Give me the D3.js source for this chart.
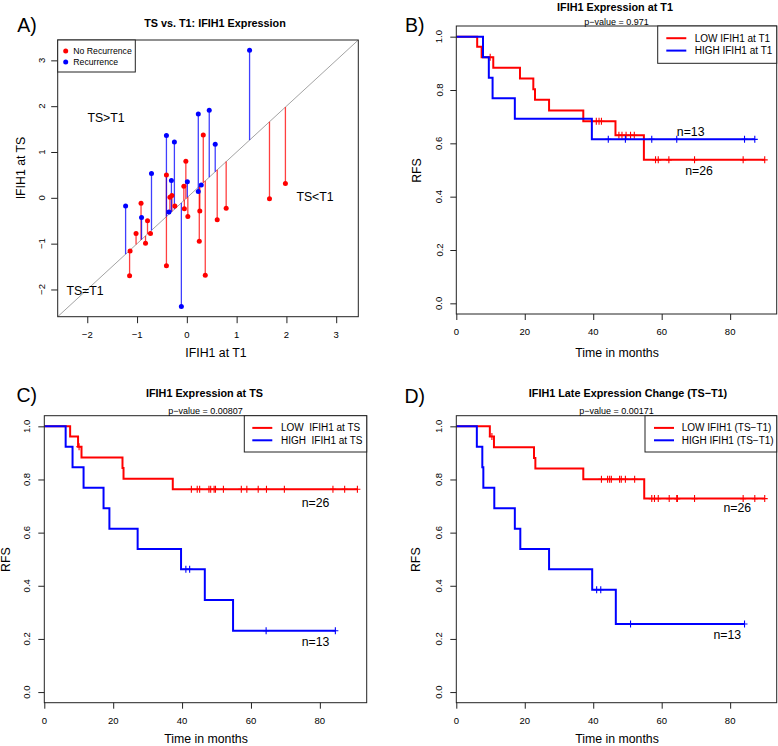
<!DOCTYPE html>
<html><head><meta charset="utf-8">
<script src="https://cdn.jsdelivr.net/npm/d3@7"></script>
<style>
body{margin:0;background:#fff}
text{font-family:"Liberation Sans",Arial,Helvetica,sans-serif;fill:#000}
</style>
</head><body>
<svg id="c" width="778" height="746" xmlns="http://www.w3.org/2000/svg"></svg>
<script>
// ---------- Panel A data (IFIH1 at T1 vs at TS) ----------
const noRecT1 = [1.98, 1.66, 0.79, 0.61, 0.33, 0.37, 0.26, 0.25, -0.02, -0.06, -0.05, 0.02, -0.24, -0.41, -0.34, -0.30, -0.41, -0.92, -0.79, -0.73, -1.02, -0.83, -1.14, -1.15];
const noRecTS = [0.31, -0.02, -0.23, -0.48, 1.37, -1.69, -0.29, -0.95, 0.80, 0.25, -0.24, -0.41, -0.18, 0.50, 0.01, 0.05, -1.48, -0.12, -0.50, -0.78, -0.78, -0.99, -1.16, -1.70];
const recT1 = [1.26, 0.23, 0.45, -0.41, -0.25, 0.57, -0.71, -0.31, 0.01, 0.29, 0.23, -0.36, -1.23, -0.91, -0.11];
const recTS = [3.22, 1.83, 1.91, 1.36, 1.22, 1.17, 0.53, 0.38, 0.35, 0.28, 0.14, -0.31, -0.18, -0.43, -2.37];
const ticksA = [-2, -1, 0, 1, 2, 3];
const legendA = ["No Recurrence", "Recurrence"];

// ---------- KM panels ----------
const kmTicksX = [0, 20, 40, 60, 80];
const kmTicksY = [0, 0.2, 0.4, 0.6, 0.8, 1.0];
const kmTickLabelsY = ["0.0", "0.2", "0.4", "0.6", "0.8", "1.0"];

// B: IFIH1 at T1
const bLowTimes = [6.1, 7.4, 10.8, 18.6, 22.5, 23.0, 27.1, 37.1, 46.5, 54.8];
const bLowSurv = [0.962, 0.923, 0.883, 0.843, 0.803, 0.763, 0.723, 0.683, 0.630, 0.538];
const bLowCens = [9.9, 40.9, 41.7, 42.4, 47.5, 48.4, 49.6, 50.9, 52.0, 58.2, 59.0, 62.1, 69.6, 83.8, 90.1];
const bHighTimes = [7.8, 9.5, 10.6, 17.1, 39.6];
const bHighSurv = [0.923, 0.846, 0.769, 0.692, 0.615];
const bHighCens = [44.4, 49.4, 57.1, 64.4, 84.2, 87.2];

// C: IFIH1 at TS
const cLowTimes = [7.5, 9.8, 10.8, 22.7, 23.0, 37.3];
const cLowSurv = [0.962, 0.923, 0.883, 0.843, 0.803, 0.763];
const cLowCens = [10.1, 42.7, 44.4, 45.1, 47.8, 48.3, 49.3, 49.7, 52.0, 57.2, 58.8, 62.1, 64.5, 69.7, 83.8, 87.2, 90.9];
const cHighTimes = [6.2, 8.2, 11.4, 17.2, 18.9, 27.1, 39.7, 46.6, 54.8];
const cHighSurv = [0.923, 0.846, 0.769, 0.692, 0.615, 0.538, 0.462, 0.346, 0.231];
const cHighCens = [41.1, 42.2, 64.4, 84.5];

// D: Late expression change (TS-T1)
const dLowTimes = [9.8, 11.0, 22.7, 23.1, 37.1, 54.9];
const dLowSurv = [0.962, 0.921, 0.881, 0.841, 0.801, 0.728];
const dLowCens = [10.4, 42.4, 44.2, 44.8, 45.3, 47.7, 48.2, 49.4, 52.1, 57.1, 57.9, 59.0, 62.2, 64.4, 64.6, 69.6, 83.8, 87.2, 90.1];
const dHighTimes = [6.0, 7.6, 7.9, 11.1, 17.1, 18.7, 27.1, 39.7, 46.6];
const dHighSurv = [0.923, 0.846, 0.769, 0.692, 0.615, 0.538, 0.462, 0.385, 0.256];
const dHighCens = [41.0, 42.2, 50.9, 84.2];

const RED = "#ff0000", BLUE = "#0000ff";
const svg = d3.select("#c");

function txt(x, y, s, size, opts = {}) {
  const t = svg.append("text").attr("x", x).attr("y", y)
    .attr("font-size", size).attr("dominant-baseline", "central")
    .attr("text-anchor", opts.anchor || "middle")
    .style("white-space", "pre")
    .text(s);
  if (opts.bold) t.attr("font-weight", "bold");
  if (opts.rot) t.attr("transform", `rotate(-90,${x},${y})`);
  return t;
}

// ================= Panel A =================
(function () {
  const lim = [-2.594, 3.444];
  const x = d3.scaleLinear().domain(lim).range([57.7, 358.3]);
  const y = d3.scaleLinear().domain(lim).range([316.7, 40]);
  const g = svg.append("g");
  const clipId = "clipA";
  svg.append("clipPath").attr("id", clipId).append("rect")
    .attr("x", 57.7).attr("y", 40).attr("width", 300.6).attr("height", 276.7);
  g.append("line").attr("clip-path", `url(#${clipId})`)
    .attr("x1", x(lim[0])).attr("y1", y(lim[0])).attr("x2", x(lim[1])).attr("y2", y(lim[1]))
    .attr("stroke", "#8c8c8c").attr("stroke-width", 0.8);
  const groups = [
    { t1: noRecT1, ts: noRecTS, col: RED },
    { t1: recT1, ts: recTS, col: BLUE }
  ];
  groups.forEach(gr => {
    const pts = gr.t1.map((v, i) => [v, gr.ts[i]]);
    g.selectAll(null).data(pts).enter().append("line")
      .attr("x1", d => x(d[0])).attr("x2", d => x(d[0]))
      .attr("y1", d => y(d[1])).attr("y2", d => y(d[0]))
      .attr("stroke", gr.col).attr("stroke-width", 1.3).attr("opacity", 0.75);
  });
  groups.forEach(gr => {
    const pts = gr.t1.map((v, i) => [v, gr.ts[i]]);
    g.selectAll(null).data(pts).enter().append("circle")
      .attr("cx", d => x(d[0])).attr("cy", d => y(d[1])).attr("r", 2.5)
      .attr("fill", gr.col);
  });
  g.append("rect").attr("x", 57.7).attr("y", 40).attr("width", 300.6).attr("height", 276.7)
    .attr("fill", "none").attr("stroke", "#222").attr("stroke-width", 1);
  const xa = d3.axisBottom(x).tickValues(ticksA).tickSize(6.5);
  const gx = svg.append("g").attr("transform", "translate(0,316.7)").call(xa);
  gx.select(".domain").remove();
  gx.selectAll("line").attr("stroke", "#222");
  gx.selectAll("text").remove();
  ticksA.forEach(v => txt(x(v), 334, v < 0 ? "\u2212" + Math.abs(v) : String(v), 9.5));
  const ya = d3.axisLeft(y).tickValues(ticksA).tickSize(6.5);
  const gy = svg.append("g").attr("transform", "translate(57.7,0)").call(ya);
  gy.select(".domain").remove();
  gy.selectAll("line").attr("stroke", "#222");
  gy.selectAll("text").remove();
  ticksA.forEach(v => txt(41.7, y(v), v < 0 ? "\u2212" + Math.abs(v) : String(v), 9.5, { rot: true }));
  svg.append("rect").attr("x", 57.7).attr("y", 40).attr("width", 77.6).attr("height", 32)
    .attr("fill", "#fff").attr("stroke", "#222").attr("stroke-width", 1);
  [[legendA[0], RED, 51], [legendA[1], BLUE, 62]].forEach(([s, c, yy]) => {
    svg.append("circle").attr("cx", 65.7).attr("cy", yy).attr("r", 2.5).attr("fill", c);
    txt(73.3, yy, s, 8.7, { anchor: "start" });
  });
  txt(106, 118, "TS>T1", 12.3);
  txt(315, 197, "TS<T1", 12.3);
  txt(85, 291, "TS=T1", 12.3);
  txt(215, 23.3, "TS vs. T1: IFIH1 Expression", 10.8, { bold: true });
  txt(216, 353.3, "IFIH1 at T1", 12.3);
  txt(20.5, 168, "IFIH1 at TS", 12.3, { rot: true });
  txt(27, 25, "A)", 19.5);
})();

// ================= KM panels =================
function kmPanel(cfg) {
  const x = d3.scaleLinear().domain([0, 93.6]).range([cfg.left, cfg.right]);
  const y = d3.scaleLinear().domain([-0.04, 1.04]).range([cfg.bottom, cfg.top]);
  const clipId = "clip" + cfg.id;
  svg.append("clipPath").attr("id", clipId).append("rect")
    .attr("x", cfg.left).attr("y", cfg.top).attr("width", cfg.right - cfg.left).attr("height", cfg.bottom - cfg.top);
  const g = svg.append("g").attr("clip-path", `url(#${clipId})`);
  const line = d3.line().x(d => x(d[0])).y(d => y(d[1])).curve(d3.curveStepAfter);
  cfg.curves.forEach(cv => {
    const last = Math.max(d3.max(cv.times), d3.max(cv.cens));
    const pts = [[0, 1]];
    cv.times.forEach((t, i) => pts.push([t, cv.surv[i]]));
    pts.push([last, cv.surv[cv.surv.length - 1]]);
    g.append("path").attr("d", line(pts)).attr("fill", "none")
      .attr("stroke", cv.col).attr("stroke-width", 2);
    const survAt = t => { let s = 1; cv.times.forEach((tt, i) => { if (tt <= t) s = cv.surv[i]; }); return s; };
    cv.cens.forEach(c => {
      const cx = x(c), cy = y(survAt(c));
      g.append("line").attr("x1", cx).attr("x2", cx).attr("y1", cy - 3.5).attr("y2", cy + 3.5)
        .attr("stroke", cv.col).attr("stroke-width", 1.1);
      g.append("line").attr("x1", cx - 3).attr("x2", cx + 3).attr("y1", cy).attr("y2", cy)
        .attr("stroke", cv.col).attr("stroke-width", 1.1);
    });
  });
  svg.append("rect").attr("x", cfg.left).attr("y", cfg.top).attr("width", cfg.right - cfg.left)
    .attr("height", cfg.bottom - cfg.top).attr("fill", "none").attr("stroke", "#222").attr("stroke-width", 1);
  const gx = svg.append("g").attr("transform", `translate(0,${cfg.bottom})`)
    .call(d3.axisBottom(x).tickValues(kmTicksX).tickSize(6));
  gx.select(".domain").remove(); gx.selectAll("text").remove(); gx.selectAll("line").attr("stroke", "#222");
  kmTicksX.forEach(v => txt(x(v), cfg.bottom + 17.7, String(v), 9.5));
  const gy = svg.append("g").attr("transform", `translate(${cfg.left},0)`)
    .call(d3.axisLeft(y).tickValues(kmTicksY).tickSize(6));
  gy.select(".domain").remove(); gy.selectAll("text").remove(); gy.selectAll("line").attr("stroke", "#222");
  kmTicksY.forEach((v, i) => txt(cfg.left - 17.3, y(v), kmTickLabelsY[i], 9.5, { rot: true }));
  const L = cfg.legend;
  svg.append("rect").attr("x", L.x).attr("y", cfg.top).attr("width", cfg.right - L.x).attr("height", L.h)
    .attr("fill", "#fff").attr("stroke", "#222").attr("stroke-width", 1);
  L.labels.forEach((s, i) => {
    const yy = cfg.top + 12.2 + i * 12.4;
    svg.append("line").attr("x1", L.lx).attr("x2", L.lx + 20).attr("y1", yy).attr("y2", yy)
      .attr("stroke", i === 0 ? RED : BLUE).attr("stroke-width", 2);
    txt(L.tx, yy, s, 10, { anchor: "start" });
  });
  cfg.nLabels.forEach(n => txt(n[1], n[2], n[0], 12.3));
  txt(cfg.titleX, cfg.titleY, cfg.title, 10.8, { bold: true });
  txt((cfg.left + cfg.right) / 2, cfg.top - 4.5, cfg.pval, 9);
  txt((cfg.left + cfg.right) / 2 + 0.5, Math.min(cfg.bottom + 39.3, 738.5), "Time in months", 12.3);
  txt(cfg.rfsX, (cfg.top + cfg.bottom) / 2 + 0.5, "RFS", 12.3, { rot: true });
  txt(cfg.letter[1], cfg.letter[2], cfg.letter[0], 19.5);
}

kmPanel({
  id: "B", left: 456.3, right: 776.7, top: 26, bottom: 314,
  curves: [
    { times: bLowTimes, surv: bLowSurv, cens: bLowCens, col: RED },
    { times: bHighTimes, surv: bHighSurv, cens: bHighCens, col: BLUE }
  ],
  legend: { x: 657.7, h: 37.3, lx: 666.3, tx: 694.7, labels: ["LOW IFIH1 at T1", "HIGH IFIH1 at T1"] },
  nLabels: [["n=13", 690.7, 132.3], ["n=26", 699, 171.3]],
  title: "IFIH1 Expression at T1", titleX: 615, titleY: 6.5,
  pval: "p\u2212value = 0.971",
  rfsX: 416.5, letter: ["B)", 414.7, 25]
});

kmPanel({
  id: "C", left: 44.3, right: 366.7, top: 415.7, bottom: 702.7,
  curves: [
    { times: cLowTimes, surv: cLowSurv, cens: cLowCens, col: RED },
    { times: cHighTimes, surv: cHighSurv, cens: cHighCens, col: BLUE }
  ],
  legend: { x: 244.3, h: 36.3, lx: 252.3, tx: 281, labels: ["LOW  IFIH1 at TS", "HIGH  IFIH1 at TS"] },
  nLabels: [["n=26", 315.5, 503.3], ["n=13", 315.5, 641.7]],
  title: "IFIH1 Expression at TS", titleX: 204.5, titleY: 392.7,
  pval: "p\u2212value = 0.00807",
  rfsX: 6.5, letter: ["C)", 26.7, 395]
});

kmPanel({
  id: "D", left: 456.3, right: 776.7, top: 415.7, bottom: 702.7,
  curves: [
    { times: dLowTimes, surv: dLowSurv, cens: dLowCens, col: RED },
    { times: dHighTimes, surv: dHighSurv, cens: dHighCens, col: BLUE }
  ],
  legend: { x: 645, h: 36.3, lx: 654, tx: 681.7, labels: ["LOW IFIH1 (TS\u2212T1)", "HIGH IFIH1 (TS\u2212T1)"] },
  nLabels: [["n=26", 737.3, 508.3], ["n=13", 727.3, 635]],
  title: "IFIH1 Late Expression Change (TS\u2212T1)", titleX: 628, titleY: 392.7,
  pval: "p\u2212value = 0.00171",
  rfsX: 416.5, letter: ["D)", 414.7, 396]
});
</script>
</body></html>
